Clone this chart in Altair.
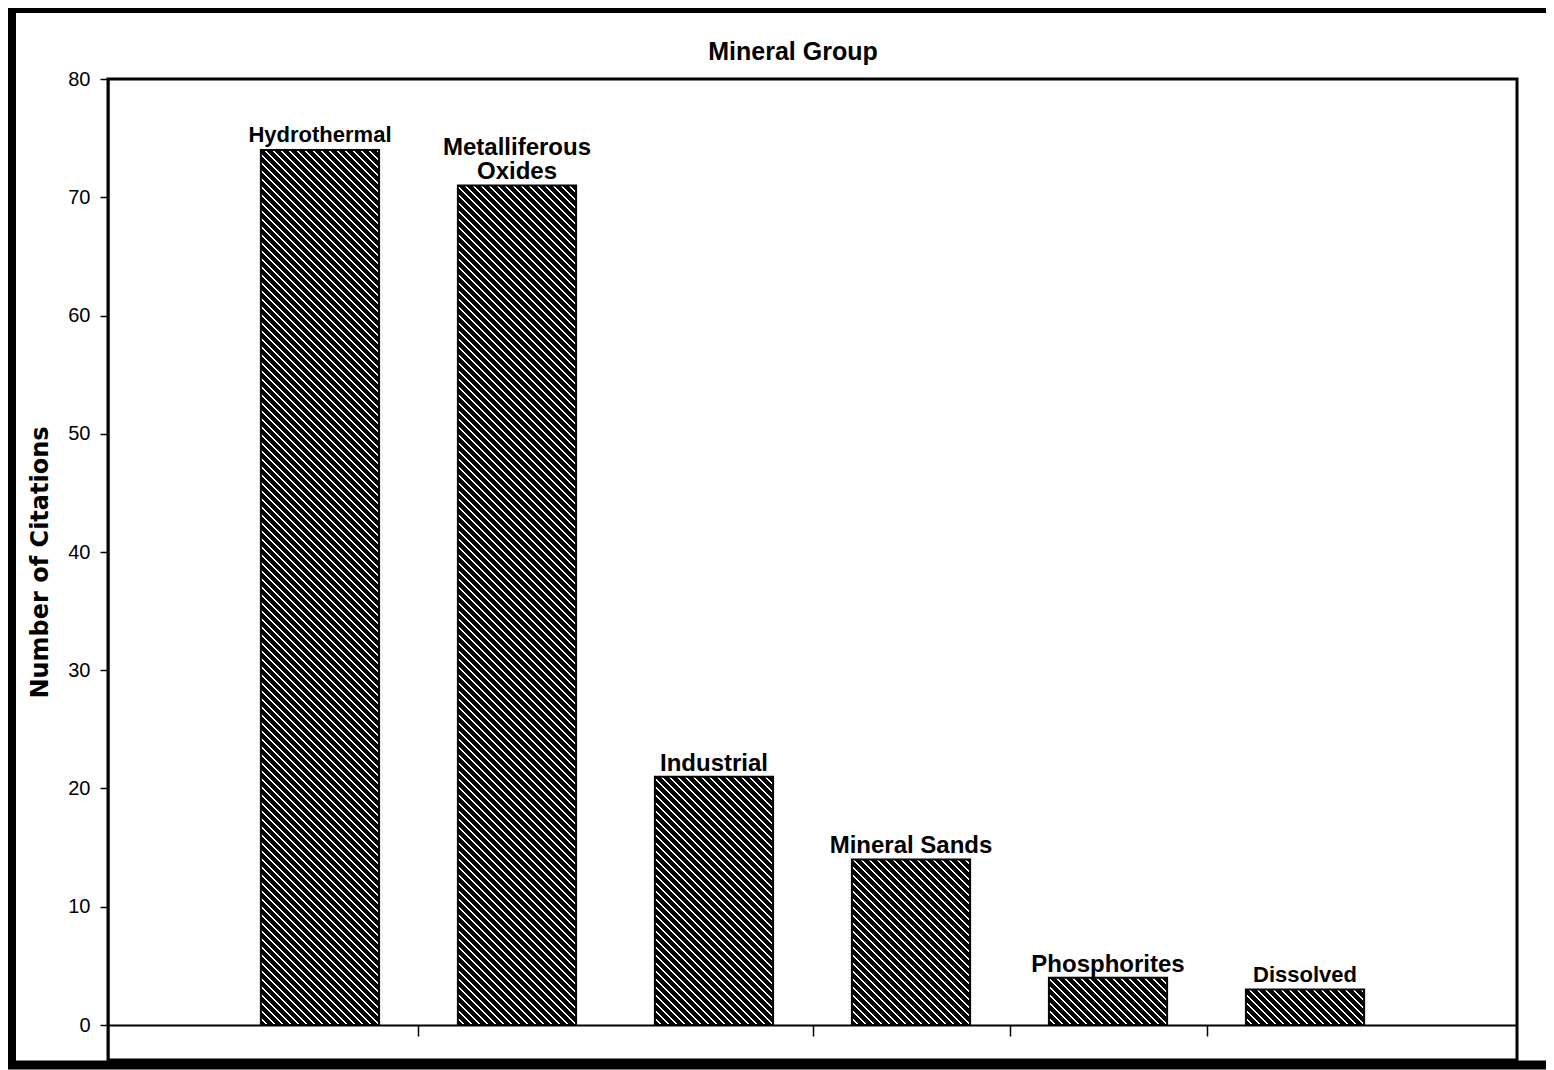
import altair as alt

# ---- data ----
chart_title = "Mineral Group"
y_title = "Number of Citations"
categories = ["Hydrothermal", "Metalliferous Oxides", "Industrial",
              "Mineral Sands", "Phosphorites", "Dissolved"]
citations = [74, 71, 21, 14, 4, 3]
bar_labels = ["Hydrothermal", "Metalliferous\nOxides", "Industrial",
              "Mineral Sands", "Phosphorites", "Dissolved"]
small_label_cats = ["Hydrothermal", "Dissolved"]
two_line_cats = ["Metalliferous Oxides"]
y_ticks = [0, 10, 20, 30, 40, 50, 60, 70, 80]
x_tick_cats = ["Metalliferous Oxides", "Mineral Sands", "Phosphorites", "Dissolved"]

# ---- layout constants ----
W = 1409
H = 981
YMAX = 80
PX = 11.825
YMIN = YMAX - H / PX
N = len(categories)
PAD_IN = 0.4
PAD_OUT = 0.776
STEP = W / (N - PAD_IN + 2 * PAD_OUT)
BW = STEP * (1 - PAD_IN)
LINE_H = 24


def hatch(value, period=8.0, black=6.0):
    """Diagonal (\\\\) hatching built as a sharp-stop linear gradient."""
    h = value * PX
    w = BW
    L = w + h
    stops = [{"offset": 0, "color": "black"}]
    d = 0.0
    while d + black < L:
        ws = (d + black) / L
        we = min(d + period, L) / L
        stops += [
            {"offset": round(ws, 5), "color": "black"},
            {"offset": round(ws, 5), "color": "white"},
            {"offset": round(we, 5), "color": "white"},
            {"offset": round(we, 5), "color": "black"},
        ]
        d += period
    stops.append({"offset": 1, "color": "black"})
    s = (w + h) / (w * w + h * h)
    return {"gradient": "linear", "x1": 0, "y1": 1,
            "x2": round(s * w, 6), "y2": round(1 - s * h, 6), "stops": stops}


records = [
    {"cat": c, "n": v, "label": l, "grad": hatch(v)}
    for c, v, l in zip(categories, citations, bar_labels)
]
data = alt.Data(values=records)

x_enc = alt.X(
    "cat:N",
    sort=categories,
    scale=alt.Scale(paddingInner=PAD_IN, paddingOuter=PAD_OUT),
    axis=alt.Axis(
        values=x_tick_cats, labels=False, title=None,
        domainColor="black", domainWidth=2,
        tickColor="black", tickWidth=1.5, tickSize=11,
        bandPosition=0, tickOffset=-STEP * PAD_IN / 2,
        offset=-(0 - YMIN) * PX,
    ),
)
y_enc = alt.Y(
    "n:Q",
    scale=alt.Scale(domain=[YMIN, YMAX], nice=False, zero=False),
    axis=alt.Axis(
        values=y_ticks, grid=False,
        title=y_title,
        titleFont="DejaVu Sans", titleFontSize=24, titleFontWeight="bold",
        titleColor="black", titleX=-56, titleY=483, titleAngle=270,
        titleAlign="center", titleBaseline="bottom",
        labelFont="Liberation Sans", labelFontSize=20, labelColor="black",
        labelPadding=10,
        domainColor="black", domainWidth=2,
        tickColor="black", tickWidth=1.5, tickSize=8,
    ),
)

bars = alt.Chart(data).mark_bar(stroke="black", strokeWidth=2).encode(
    x=x_enc,
    y=y_enc,
    fill=alt.Fill("grad:N", scale=None),
)


def label_layer(predicate, size, dy):
    return alt.Chart(data).transform_filter(predicate).mark_text(
        lineBreak="\n", baseline="alphabetic", dy=dy, fontWeight="bold",
        fontSize=size, lineHeight=LINE_H, font="Liberation Sans", color="black",
    ).encode(
        x=alt.X("cat:N", sort=categories),
        y=alt.Y("n:Q"),
        text="label:N",
    )


is_small = alt.FieldOneOfPredicate(field="cat", oneOf=small_label_cats)
is_two = alt.FieldOneOfPredicate(field="cat", oneOf=two_line_cats)

labels_big = label_layer({"and": [{"not": is_small}, {"not": is_two}]}, 24, -6)
labels_two = label_layer(is_two, 24, -6 - LINE_H)
labels_small = label_layer(is_small, 22, -8)

title_mark = alt.Chart(alt.Data(values=[{"t": chart_title}])).mark_text(
    baseline="alphabetic", align="center", fontWeight="bold",
    fontSize=25, font="Liberation Sans", color="black", clip=False,
).encode(
    x=alt.value(685), y=alt.value(-19), text="t:N",
)

frame = alt.Chart(alt.Data(values=[{"f": 0}])).mark_rect(
    filled=False, stroke="black", strokeWidth=9, clip=False,
).encode(
    x=alt.value(-96.5), x2=alt.value(W + 80),
    y=alt.value(-70.5), y2=alt.value(H + 5),
)

chart = alt.layer(
    bars, labels_big, labels_two, labels_small, title_mark, frame
).properties(
    width=W,
    height=H,
    padding={"left": 100, "top": 71, "right": 29, "bottom": 10},
    autosize=alt.AutoSizeParams(type="none"),
).configure(
    background="white",
).configure_view(
    stroke="black", strokeWidth=3,
)

chart.save("out.html", embed_options={"renderer": "svg", "actions": False})
